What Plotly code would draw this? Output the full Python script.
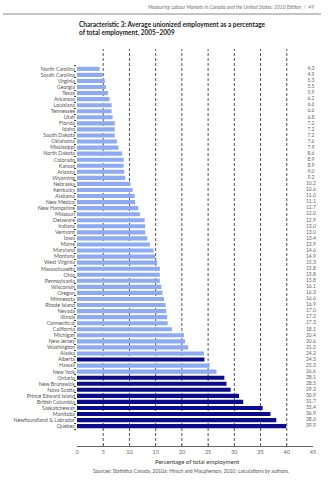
import plotly.graph_objects as go

regions = ["North Carolina", "South Carolina", "Virginia", "Georgia", "Texas", "Arkansas",
           "Louisiana", "Tennessee", "Utah", "Florida", "Idaho", "South Dakota", "Oklahoma",
           "Mississippi", "North Dakota", "Colorado", "Kansas", "Arizona", "Wyoming", "Nebraska",
           "Kentucky", "Alabama", "New Mexico", "New Hampshire", "Missouri", "Delaware", "Indiana",
           "Vermont", "Iowa", "Maine", "Maryland", "Montana", "West Virginia", "Massachusetts",
           "Ohio", "Pennsylvania", "Wisconsin", "Oregon", "Minnesota", "Rhode Island", "Nevada",
           "Illinois", "Connecticut", "California", "Michigan", "New Jersey", "Washington", "Alaska",
           "Alberta", "Hawaii", "New York", "Ontario", "New Brunswick", "Nova Scotia",
           "Prince Edward Island", "British Columbia", "Saskatchewan", "Manitoba",
           "Newfoundland & Labrador", "Quebec"]

values = [4.3, 4.9, 5.3, 5.5, 5.9, 6.2, 6.6, 6.6, 6.8, 7.2, 7.2, 7.2, 7.6, 7.9, 8.6, 8.9, 8.9,
          9.0, 9.2, 10.2, 10.6, 11.0, 11.1, 11.7, 12.0, 12.9, 13.0, 13.0, 13.4, 13.9, 14.6, 14.9,
          15.3, 15.8, 15.8, 15.8, 16.1, 16.3, 16.6, 16.9, 17.0, 17.2, 17.3, 18.1, 20.4, 20.6,
          21.2, 24.2, 24.3, 25.3, 26.6, 28.1, 28.5, 29.3, 30.9, 31.7, 35.4, 36.9, 38.0, 39.9]

canadian = {"Alberta", "Ontario", "New Brunswick", "Nova Scotia", "Prince Edward Island",
            "British Columbia", "Saskatchewan", "Manitoba", "Newfoundland & Labrador", "Quebec"}

x_ticks = [0, 5, 10, 15, 20, 25, 30, 35, 40, 45]
grid_lines = [5, 10, 15, 20, 25, 30, 35, 40]
label_x = 44.6

US_COLOR = "#8eaaf4"
CA_COLOR = "#0c0c8c"
colors = [CA_COLOR if r in canadian else US_COLOR for r in regions]

FONT = "Lato"
W, H = 329, 480
L, R, T, B = 77, 16, 49, 34
PW, PH = W - L - R, H - T - B

def py(px_from_top):
    return 1 + (T - px_from_top) / PH

def px(x_px):
    return (x_px - L) / PW

fig = go.Figure()
fig.add_trace(go.Bar(
    y=regions, x=values, orientation="h",
    marker=dict(color=colors, line=dict(width=0)),
    hoverinfo="x+y", showlegend=False,
))
fig.add_trace(go.Scatter(
    y=regions, x=[label_x] * len(values), mode="text",
    text=[f"{v:.1f}" for v in values], textposition="middle center",
    textfont=dict(family=FONT, size=5, color="#666666"),
    showlegend=False, hoverinfo="skip", cliponaxis=False,
))

shapes = []
for g in grid_lines:
    shapes.append(dict(type="line", xref="x", yref="paper", x0=g, x1=g, y0=0, y1=1,
                       line=dict(color="#555555", width=1, dash="3px,2px"), layer="below"))
shapes.append(dict(type="line", xref="paper", yref="paper", x0=px(3), x1=px(321),
                   y0=py(14), y1=py(14), line=dict(color="#888888", width=1)))

annotations = [
    dict(text="<i>Measuring Labour Markets in Canada and the United States: 2010 Edition  /  49</i>",
         xref="paper", yref="paper", x=px(316), y=py(7), xanchor="right", yanchor="middle",
         showarrow=False, font=dict(family=FONT, size=5, color="#777777")),
    dict(text="<b>Characteristic 3: Average unionized employment as a percentage<br>of total employment, 2005–2009</b>",
         xref="paper", yref="paper", x=0, y=py(29), xanchor="left", yanchor="middle", align="left",
         showarrow=False, font=dict(family=FONT, size=6.5, color="#222222")),
    dict(text="Percentage of total employment", xref="paper", yref="paper",
         x=px(197), y=py(461), xanchor="center", yanchor="middle", showarrow=False,
         font=dict(family=FONT, size=6, color="#333333")),
    dict(text="Sources: Statistics Canada, 2010a; Hirsch and Macpherson, 2010; calculations by authors.",
         xref="paper", yref="paper", x=px(191), y=py(471), xanchor="center", yanchor="middle",
         showarrow=False, font=dict(family=FONT, size=5, color="#555555")),
]

fig.update_layout(
    width=W, height=H,
    margin=dict(l=L, r=R, t=T, b=B, pad=0),
    paper_bgcolor="white", plot_bgcolor="white",
    bargap=0.32,
    shapes=shapes, annotations=annotations,
    xaxis=dict(range=[0, 45], tickvals=x_ticks, showgrid=False, zeroline=False,
               showline=True, linecolor="#666666", linewidth=1,
               ticks="inside", ticklen=2, tickcolor="#666666",
               tickfont=dict(family=FONT, size=5.5, color="#666666")),
    yaxis=dict(autorange="reversed", showgrid=False, zeroline=False, showline=False,
               tickmode="array", tickvals=regions, ticktext=regions,
               ticks="outside", ticklen=2, tickcolor="#444444", tickson="boundaries",
               ticklabelstandoff=1,
               tickfont=dict(family=FONT, size=5.3, color="#555555")),
)

fig.write_html("out.html")
